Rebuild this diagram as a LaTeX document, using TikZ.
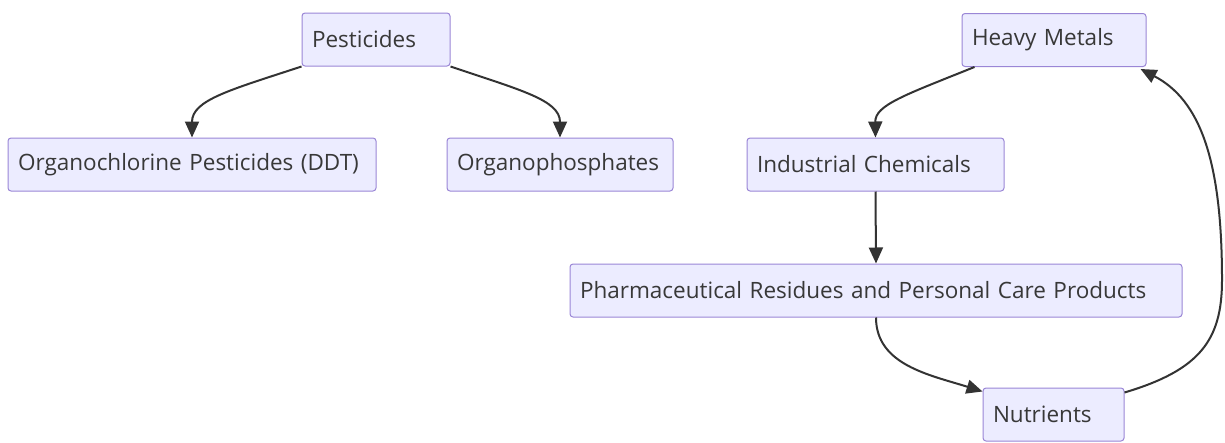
\documentclass[tikz,border=0pt]{standalone}
\usepackage{fontspec}
\setmainfont{Open Sans}
\usetikzlibrary{arrows.meta,calc}
\definecolor{boxfill}{HTML}{ECECFF}
\definecolor{boxline}{HTML}{9A86D6}
\definecolor{edgecol}{HTML}{333333}
\begin{document}
\begin{tikzpicture}[x=1pt,y=-1pt,
  box/.style={draw=boxline,fill=boxfill,line width=1pt,rounded corners=3pt,
    minimum height=53pt,inner xsep=10pt,inner ysep=0pt,align=left,
    font=\fontsize{22.5}{26}\selectfont,text=black!78,anchor=center},
  edge/.style={draw=edgecol,line width=2pt,-{Triangle[length=16pt,width=14pt]}}]
\useasboundingbox (0,0) rectangle (1225,442);
\node[box,text width=128pt] (pest) at (376,39.5) {Pesticides};
\node[box,text width=348pt] (ocp) at (192,164.5) {Organochlorine Pesticides (DDT)};
\node[box,text width=206pt] (oph) at (560,164.5) {Organophosphates};
\node[box,text width=164pt] (hm) at (1054,40) {Heavy Metals};
\node[box,text width=237pt] (ind) at (875.5,164.5) {Industrial Chemicals};
\node[box,text width=592pt] (ph) at (876,290.5) {Pharmaceutical Residues and Personal Care Products};
\node[box,text width=121pt] (nut) at (1053.5,414.5) {Nutrients};
\draw[edge] (pest.south west) .. controls (230,90) and (192,100) .. (ocp.north);
\draw[edge] (pest.south east) .. controls (520,90) and (560,100) .. (oph.north);
\draw[edge] ($(hm.south west)+(13,0)$) .. controls (905,95) and (875,105) .. (ind.north);
\draw[edge] (ind.south) -- (ph.north);
\draw[edge] (ph.south) .. controls (876,365) and (930,375) .. ($(nut.north west)+(0,4)$);
\draw[edge] ($(nut.north east)+(0,5)$) .. controls (1200,370) and (1222,340) .. (1222,280)
  .. controls (1222,160) and (1200,100) .. ($(hm.south east)+(-6,2)$);
\end{tikzpicture}
\end{document}
